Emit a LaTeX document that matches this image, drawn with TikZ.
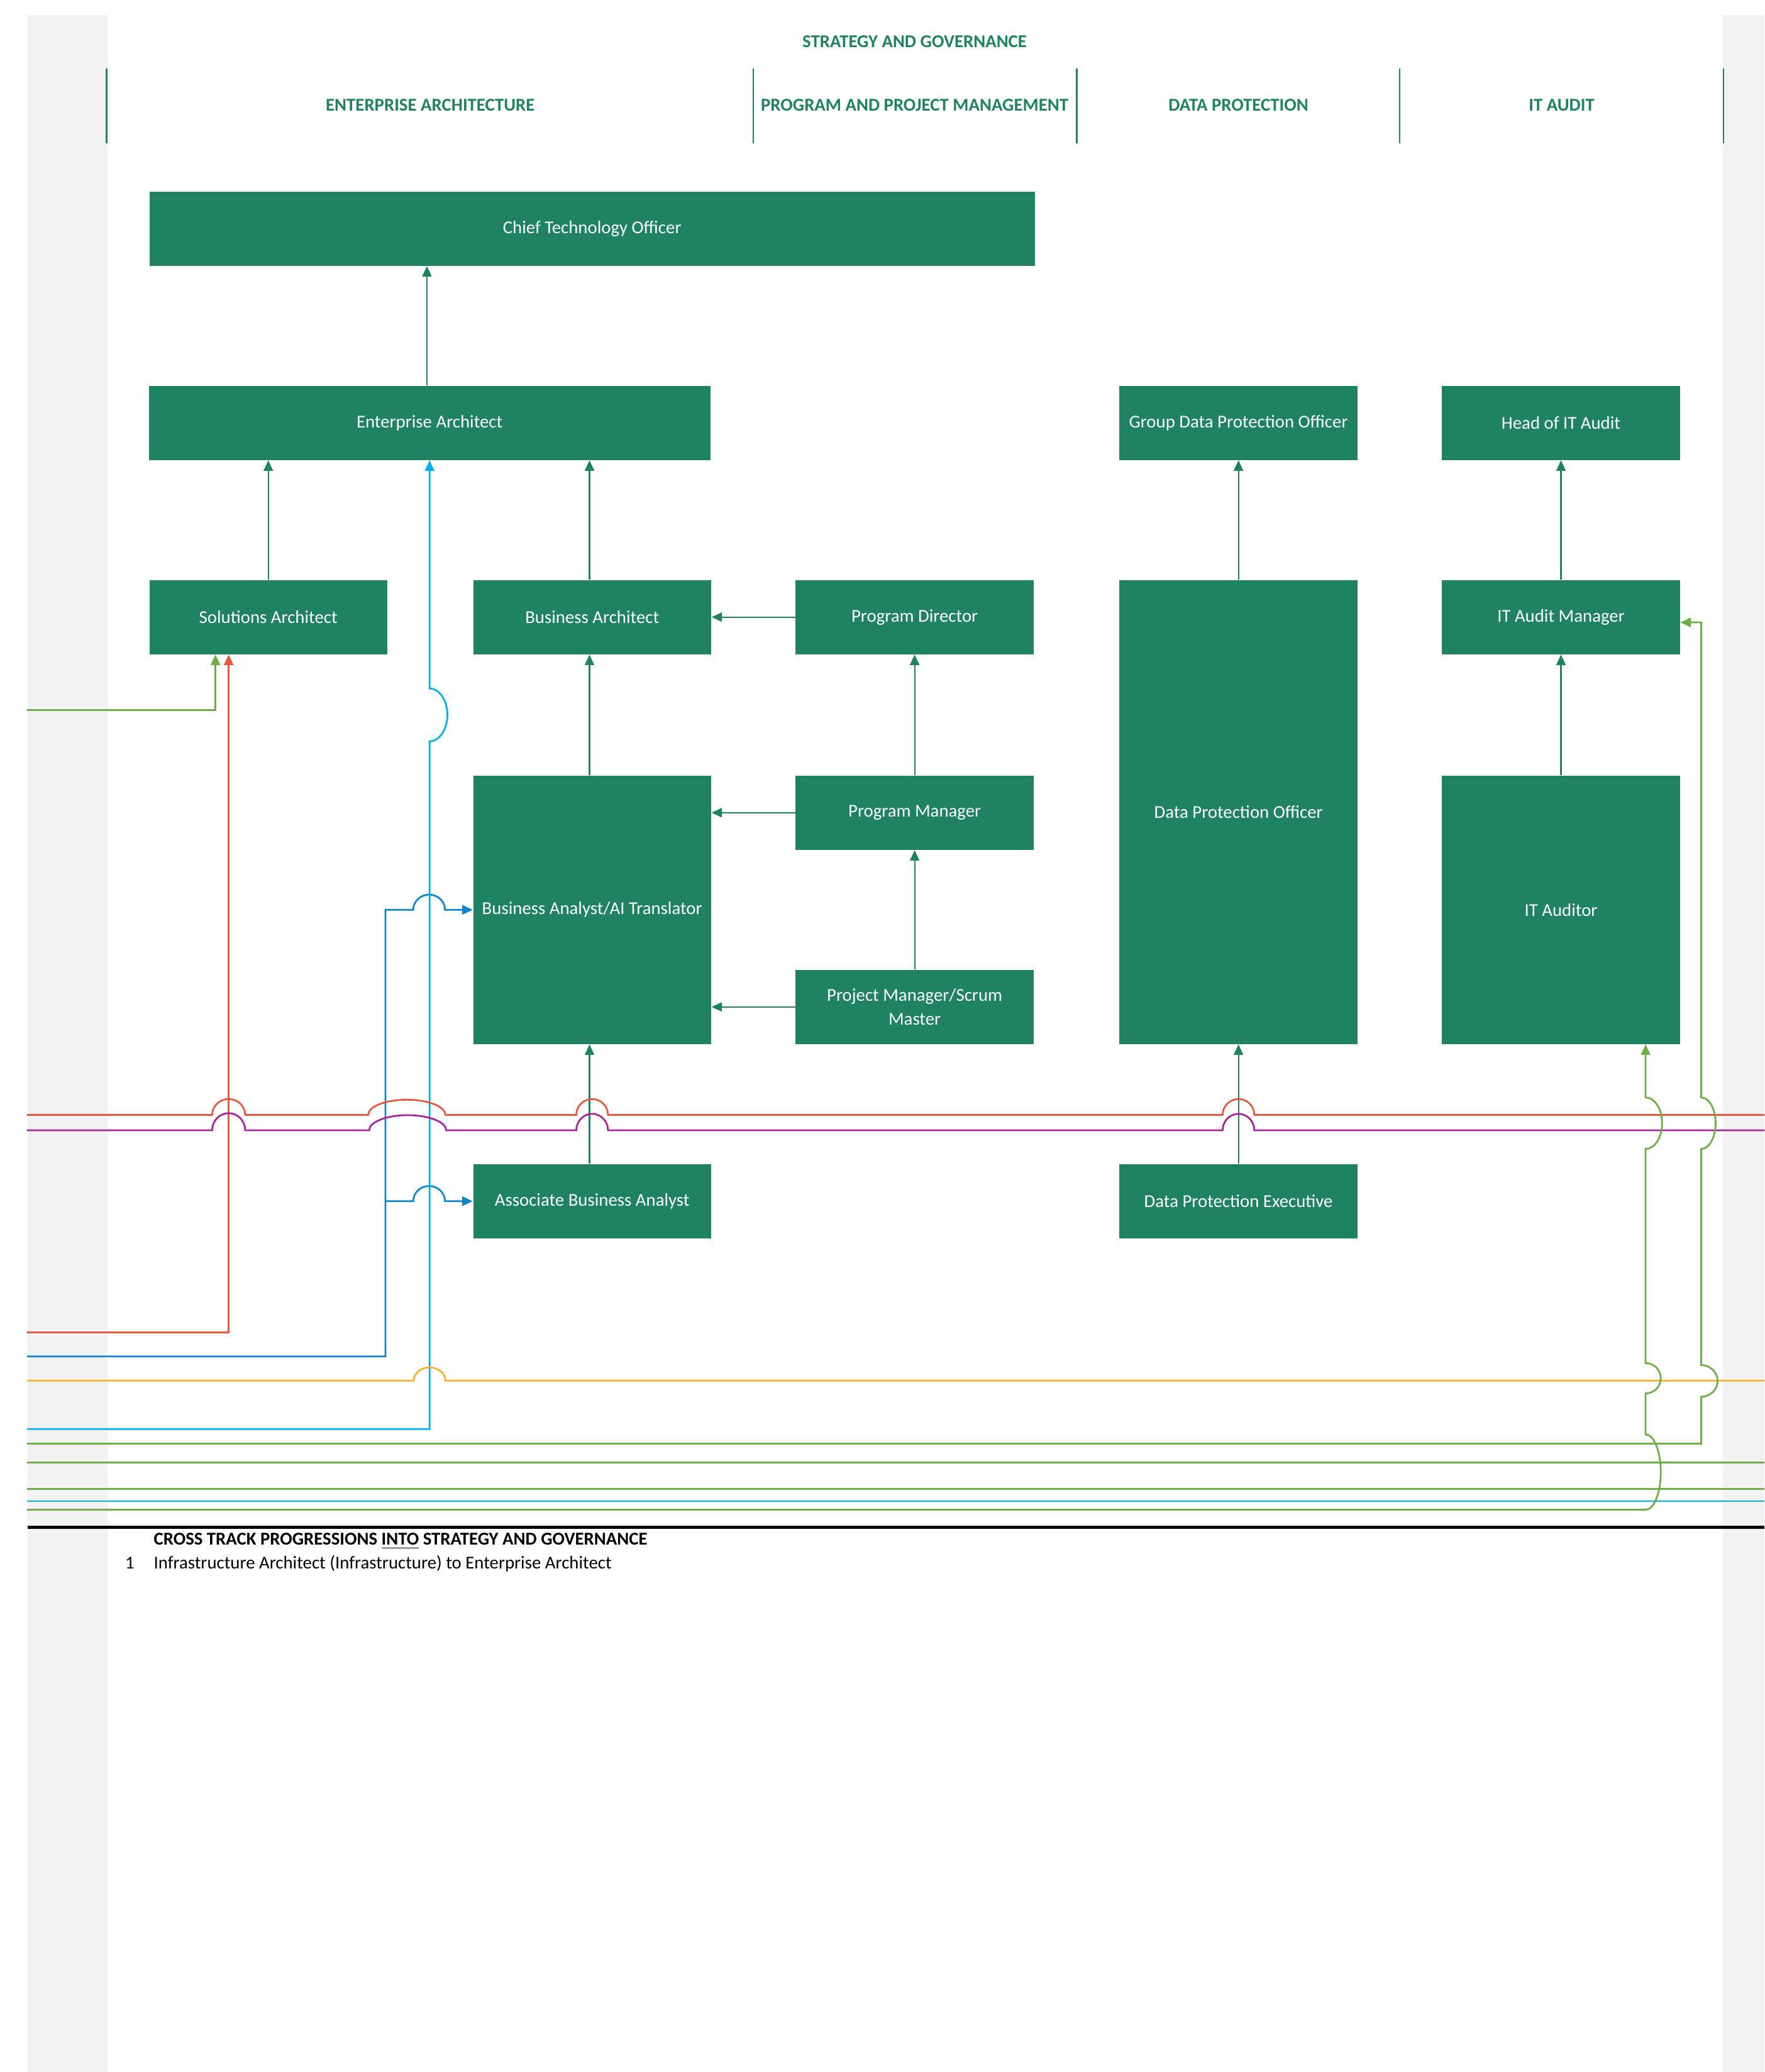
\documentclass[tikz,border=0pt]{standalone}
\usepackage{fontspec}
\setmainfont{Carlito}
\usetikzlibrary{arrows.meta,calc}
\definecolor{boxg}{HTML}{1F8262}
\definecolor{lgray}{HTML}{F2F2F2}
\definecolor{cred}{HTML}{E8573F}
\definecolor{cpur}{HTML}{A8229A}
\definecolor{cblu}{HTML}{0E86C8}
\definecolor{clbl}{HTML}{00B0F0}
\definecolor{corg}{HTML}{FBB034}
\definecolor{cgrn}{HTML}{70AD47}
\begin{document}
\begin{tikzpicture}[x=0.02cm, y=-0.02cm, font=\fontsize{7.8}{10.2}\selectfont,
  box/.style={fill=boxg, text=white, inner sep=0pt, align=center, minimum height=1.12cm, minimum width=3.6cm},
  conn/.style={draw=boxg, line width=0.6pt, -{Triangle[length=4.5pt,width=4pt]}},
  cl/.style={line width=0.75pt},
  tip/.style={-{Triangle[length=4.5pt,width=4pt]}},
  head/.style={text=boxg, font=\fontsize{7.8}{10.2}\selectfont\bfseries},
  sepline/.style={draw=boxg, line width=0.7pt},
  plain/.style={inner sep=0pt, anchor=base west}]
\useasboundingbox (0,0) rectangle (1335,1568);
% grey margins
\fill[lgray] (21,11.4) rectangle (81.5,1568);
\fill[lgray] (1303.5,11.4) rectangle (1335,1568);

% headings
\node[head] (hsg) at (692,31.4) {STRATEGY AND GOVERNANCE};
\node[head] (hea) at (325.5,79.5) {ENTERPRISE ARCHITECTURE};
\node[head] (hppm) at (692,79.5) {PROGRAM AND PROJECT MANAGEMENT};
\node[head] (hdp) at (937,79.5) {DATA PROTECTION};
\node[head] (hita) at (1181.5,79.5) {IT AUDIT};
\foreach \sx in {80.7,570,814.7,1059,1303.9}
  \draw[sepline] (\sx,51.8) -- (\sx,108.6);

% boxes
\node[box, minimum width=13.4cm] (cto) at (448,173) {Chief Technology Officer};
\node[box, minimum width=8.5cm] (ea) at (325,320) {Enterprise Architect};
\node[box] (gdpo) at (937,320) {Group Data Protection Officer};
\node[box] (hit) at (1181,320) {Head of IT Audit};
\node[box] (sa) at (203,467) {Solutions Architect};
\node[box] (ba) at (448,467) {Business Architect};
\node[box] (pd) at (692,467) {Program Director};
\node[box, minimum height=7.02cm] (dpo) at (937,614.5) {Data Protection Officer};
\node[box] (itam) at (1181,467) {IT Audit Manager};
\node[box] (pm) at (692,615) {Program Manager};
\node[box, minimum height=4.06cm] (baai) at (448,688.5) {Business Analyst/AI Translator};
\node[box, minimum height=4.06cm] (itaud) at (1181,688.5) {IT Auditor};
\node[box] (pjm) at (692,762) {Project Manager/Scrum\\Master};
\node[box] (aba) at (448,909) {Associate Business Analyst};
\node[box] (dpe) at (937,909) {Data Protection Executive};

% in-track connectors
\draw[conn] ([xshift=-0.04cm]ea.north) -- ([xshift=-0.04cm]ea.north |- cto.south);
\draw[conn] (sa.north) -- (sa.north |- ea.south);
\draw[conn] ([xshift=-0.04cm]ba.north) -- ([xshift=-0.04cm]ba.north |- ea.south);
\draw[conn] (pd.west) -- (ba.east);
\draw[conn] (pm.north) -- (pd.south);
\draw[conn] (pm.west) -- (pm.west -| baai.east);
\draw[conn] (pjm.north) -- (pm.south);
\draw[conn] (pjm.west) -- (pjm.west -| baai.east);
\draw[conn] ([xshift=-0.04cm]baai.north) -- ([xshift=-0.04cm]ba.south);
\draw[conn] ([xshift=-0.04cm]aba.north) -- ([xshift=-0.04cm]baai.south);
\draw[conn] (dpo.north) -- (gdpo.south);
\draw[conn] (dpe.north) -- (dpo.south);
\draw[conn] (itam.north) -- (hit.south);
\draw[conn] (itaud.north) -- (itam.south);

% free ends at the page edges
\coordinate (Lg1) at (20.5,537.4);
\coordinate (Lr1) at (20.5,1008.4);
\coordinate (Lb1) at (20.5,1026.5);
\coordinate (Llb1) at (20.5,1081.4);
\coordinate (Lr2) at (20.5,843.7);
\coordinate (Rr2) at (1335,843.7);
\coordinate (Lp) at (20.5,855.4);
\coordinate (Rp) at (1335,855.4);
\coordinate (Lo) at (20.5,1044.8);
\coordinate (Ro) at (1335,1044.8);
\coordinate (Lg2) at (20.5,1092.5);
\coordinate (Lg3) at (20.5,1106.8);
\coordinate (Rg3) at (1335,1106.8);
\coordinate (Lg4) at (20.5,1126.6);
\coordinate (Rg4) at (1335,1126.6);
\coordinate (Llb2) at (20.5,1136);
\coordinate (Rlb2) at (1335,1136);
\coordinate (Lg5) at (20.5,1142.5);
\coordinate (jb) at (292,909);

% cross-track lines
\draw[cl,cgrn,tip] (Lg1) -| ($(sa.south)+(-40,0)$);
\draw[cl,cred,tip] (Lr1) -| ($(sa.south)+(-30,0)$);
\draw[cl,cblu,tip] (Lb1) -| ($(baai.west)+(-66,0)$) -- ($(baai.west)+(-45,0)$)
   arc[start angle=180,end angle=0,x radius=0.24cm,y radius=0.23cm] -- (baai.west);
\draw[cl,cblu,tip] (jb) -- ($(aba.west)+(-45,0)$)
   arc[start angle=180,end angle=0,x radius=0.24cm,y radius=0.23cm] -- (aba.west);
\draw[cl,clbl,tip] (Llb1) -| (325,561)
   arc[start angle=-90,end angle=90,x radius=0.27cm,y radius=0.4cm] -- (ea.south);

\draw[cl,cred] (Lr2) -- (160.5,843.7)
   arc[start angle=180,end angle=0,x radius=0.25cm,y radius=0.24cm] -- (278.6,843.7)
   arc[start angle=180,end angle=0,x radius=0.584cm,y radius=0.23cm] -- (436,843.7)
   arc[start angle=180,end angle=0,x radius=0.24cm,y radius=0.24cm] -- (925,843.7)
   arc[start angle=180,end angle=0,x radius=0.24cm,y radius=0.24cm] -- (Rr2);
\draw[cl,cpur] (Lp) -- (160.5,855.4)
   arc[start angle=180,end angle=0,x radius=0.25cm,y radius=0.26cm] -- (279.3,855.4)
   arc[start angle=180,end angle=0,x radius=0.583cm,y radius=0.23cm] -- (436,855.4)
   arc[start angle=180,end angle=0,x radius=0.24cm,y radius=0.25cm] -- (925,855.4)
   arc[start angle=180,end angle=0,x radius=0.24cm,y radius=0.25cm] -- (Rp);
\draw[cl,corg] (Lo) -- (313,1044.8)
   arc[start angle=180,end angle=0,x radius=0.24cm,y radius=0.2cm] -- (Ro);

\draw[cl,cgrn,tip] (Lg2) -- (1287,1092.5) -- (1287,1057)
   arc[start angle=-90,end angle=90,x radius=0.25cm,y radius=0.24cm] -- (1287,869.5)
   arc[start angle=-90,end angle=90,x radius=0.22cm,y radius=0.39cm] -- (1287,471)
   -- ($(itam.east)+(0,4)$);
\draw[cl,cgrn] (Lg3) -- (Rg3);
\draw[cl,cgrn] (Lg4) -- (Rg4);
\draw[cl,clbl] (Llb2) -- (Rlb2);
\draw[cl,cgrn,tip] (Lg5) -- (1245,1142.5)
   arc[start angle=-90,end angle=90,x radius=0.23cm,y radius=0.57cm] -- (1245,1054.5)
   arc[start angle=-90,end angle=90,x radius=0.23cm,y radius=0.23cm] -- (1245,869.5)
   arc[start angle=-90,end angle=90,x radius=0.25cm,y radius=0.39cm] -- ($(itaud.south)+(64,0)$);

% footer
\coordinate (fl) at (21,1155.7);
\coordinate (fr) at (1335,1155.7);
\draw[line width=1.3pt, black] (fl) -- (fr);
\node[plain, font=\fontsize{7.8}{10.2}\selectfont\bfseries] (ftitle) at (116,1169)
  {CROSS TRACK PROGRESSIONS \underline{INTO} STRATEGY AND GOVERNANCE};
\node[plain] (fnum) at (94.4,1187) {1};
\node[plain] (fitem) at (116,1187) {Infrastructure Architect (Infrastructure) to Enterprise Architect};
\end{tikzpicture}
\end{document}
